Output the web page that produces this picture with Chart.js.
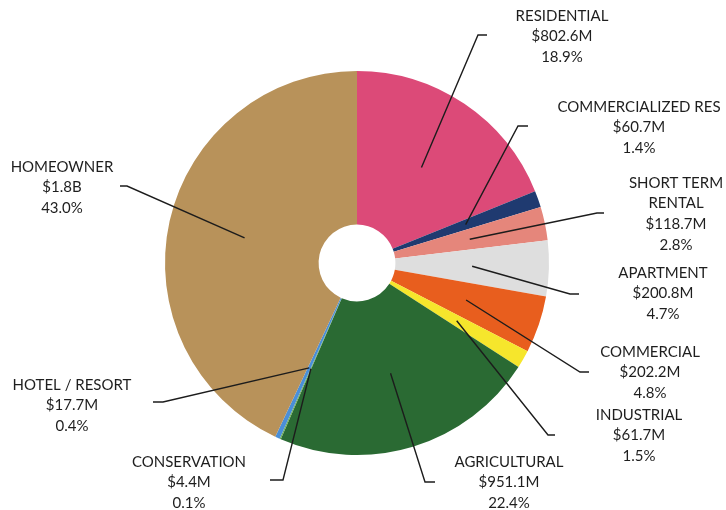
<!DOCTYPE html>
<html>
<head>
<meta charset="utf-8">
<script src="https://cdn.jsdelivr.net/npm/chart.js@4.4.1/dist/chart.umd.min.js"></script>
<style>
  html, body { margin: 0; padding: 0; background: #fff; }
  #wrap { width: 726px; height: 510px; position: relative; }
</style>
</head>
<body>
<div id="wrap"><canvas id="valueChart"></canvas></div>
<script>
// ── Data ──────────────────────────────────────────────────────────────────────

const categories = [
    'RESIDENTIAL', 'COMMERCIALIZED RES', ['SHORT TERM', 'RENTAL'], 'APARTMENT', 'COMMERCIAL',
    'INDUSTRIAL', 'AGRICULTURAL', 'CONSERVATION', 'HOTEL / RESORT', 'HOMEOWNER',
];
// assessed value, millions of dollars
const amounts = [802.6, 60.7, 118.7, 200.8, 202.2, 61.7, 951.1, 4.4, 17.7, 1800];
// share of total value, percent
const shares = [18.9, 1.4, 2.8, 4.7, 4.8, 1.5, 22.4, 0.1, 0.4, 43.0];

const sliceColors = [
    '#dc4a78', '#1f3a70', '#e5867b', '#dedede', '#e85e1e',
    '#f6e62c', '#2a6a33', '#6fae54', '#4a8fd8', '#b8925a',
];

// label placement, relative to the pie centre: elbow of the leader, tail length, text centre / first line
const labelLayout = [
    { elbow: [121, -228], tail: 9,   text: [205, -247] },
    { elbow: [161, -137], tail: 10,  text: [282, -156] },
    { elbow: [240, -50],  tail: 7,   text: [319, -80] },
    { elbow: [213, 31],   tail: 9,   text: [306, 10] },
    { elbow: [223, 109],  tail: 9,   text: [293, 89] },
    { elbow: [191, 172],  tail: 7,   text: [282, 152] },
    { elbow: [68, 219],   tail: 10,  text: [152, 199] },
    { elbow: [-74, 217],  tail: -13, text: [-168, 199] },
    { elbow: [-194, 139], tail: -10, text: [-285, 122] },
    { elbow: [-230, -77], tail: -7,  text: [-295, -96] },
];

// ── Helpers ───────────────────────────────────────────────────────────────────

function formatAmount(m) {
    return m >= 1000 ? `$${(m / 1000).toFixed(1)}B` : `$${m.toFixed(1)}M`;
}

// Leader lines + three-line labels drawn off each arc
const calloutPlugin = {
    id: 'callouts',
    afterDatasetsDraw(chart) {
        const { ctx } = chart;
        const meta = chart.getDatasetMeta(0);
        ctx.save();
        ctx.strokeStyle = '#1c1c1c';
        ctx.lineWidth = 1.4;
        ctx.fillStyle = '#1e1e1e';
        ctx.font = '15px Lato';
        ctx.textAlign = 'center';
        ctx.textBaseline = 'middle';

        meta.data.forEach((arc, i) => {
            const { x, y, startAngle, endAngle, outerRadius } = arc.getProps(['x', 'y', 'startAngle', 'endAngle', 'outerRadius'], true);
            const mid = (startAngle + endAngle) / 2;
            const r = outerRadius * 0.6;
            const lay = labelLayout[i];
            const ex = x + lay.elbow[0];
            const ey = y + lay.elbow[1];

            ctx.beginPath();
            ctx.moveTo(x + Math.cos(mid) * r, y + Math.sin(mid) * r);
            ctx.lineTo(ex, ey);
            ctx.lineTo(ex + lay.tail, ey);
            ctx.stroke();

            const name = Array.isArray(categories[i]) ? categories[i] : [categories[i]];
            const lines = [...name, formatAmount(amounts[i]), `${shares[i].toFixed(1)}%`];
            lines.forEach((t, k) => {
                ctx.fillText(t, x + lay.text[0], y + lay.text[1] + k * 20.6);
            });
        });
        ctx.restore();
    },
};

// ── Chart ─────────────────────────────────────────────────────────────────────

new Chart(document.getElementById('valueChart'), {
    type: 'doughnut',
    data: {
        labels: categories,
        datasets: [{
            data: shares,
            backgroundColor: sliceColors,
            borderWidth: 0,
        }],
    },
    options: {
        responsive: true,
        maintainAspectRatio: false,
        animation: false,
        cutout: '20%',
        layout: { padding: { left: 0, right: 12, top: 71, bottom: 55 } },
        plugins: {
            legend: { display: false },
            tooltip: { enabled: false },
        },
    },
    plugins: [calloutPlugin],
});
</script>
</body>
</html>
